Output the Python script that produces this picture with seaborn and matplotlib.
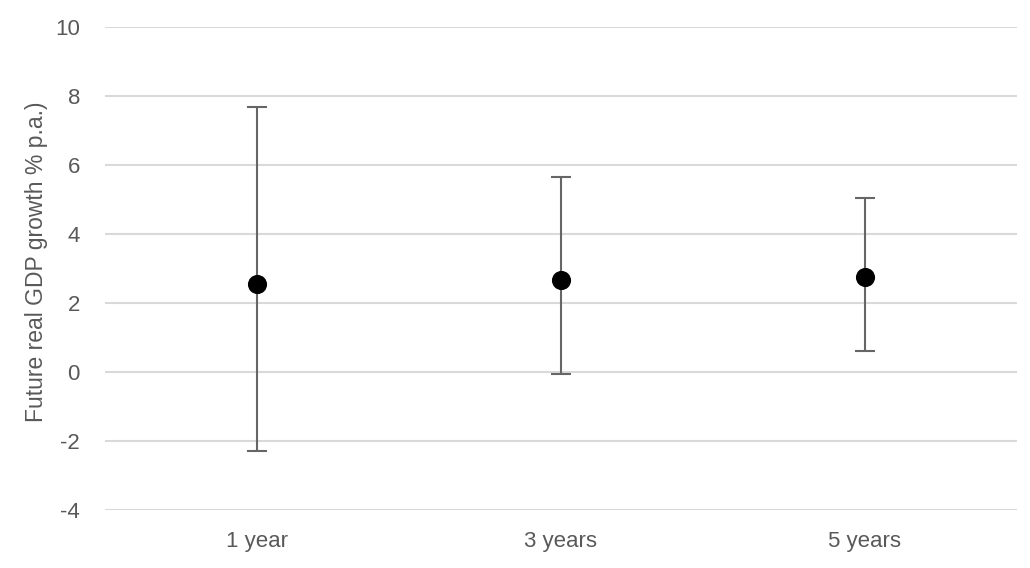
import pandas as pd
import seaborn as sns
import matplotlib.pyplot as plt

horizons = ['1 year', '3 years', '5 years']
median = [2.55, 2.66, 2.75]
upper = [7.68, 5.65, 5.05]
lower = [-2.29, -0.06, 0.62]

df = pd.DataFrame({'horizon': horizons, 'median': median, 'upper': upper, 'lower': lower})

sns.set_theme(style="white")
plt.rcParams['font.family'] = ['Liberation Sans', 'DejaVu Sans']
plt.rcParams['axes.unicode_minus'] = False
grey = '#595959'

fig = plt.figure(figsize=(10.3, 5.68), dpi=100)
ax = fig.add_axes([105 / 1030, 1 - 510 / 568, 912 / 1030, 483 / 568])

x = range(len(df))
ax.errorbar(x, df['median'],
            yerr=[df['median'] - df['lower'], df['upper'] - df['median']],
            fmt='none', ecolor='#666666', elinewidth=1.5, capsize=7, capthick=1.5, zorder=2)
sns.scatterplot(data=df, x='horizon', y='median', color='black', s=190, ax=ax, zorder=3,
                edgecolor='black', linewidth=0)

ax.set_xlim(-0.5, 2.5)
ax.set_ylim(-4, 10)
ax.set_yticks(range(-4, 11, 2))
ax.yaxis.grid(True, color='#d9d9d9', linewidth=1.5)
ax.set_axisbelow(True)
for s in ax.spines.values():
    s.set_visible(False)
ax.tick_params(axis='both', length=0, labelsize=16, colors=grey)
ax.tick_params(axis='x', pad=15)
ax.tick_params(axis='y', pad=18)
ax.set_xlabel('')
ax.set_ylabel('Future real GDP growth % p.a.)', fontsize=16.5, color=grey, labelpad=5)
ax.yaxis.label.set_y(0.514)

fig.savefig('out.png', dpi=100)
